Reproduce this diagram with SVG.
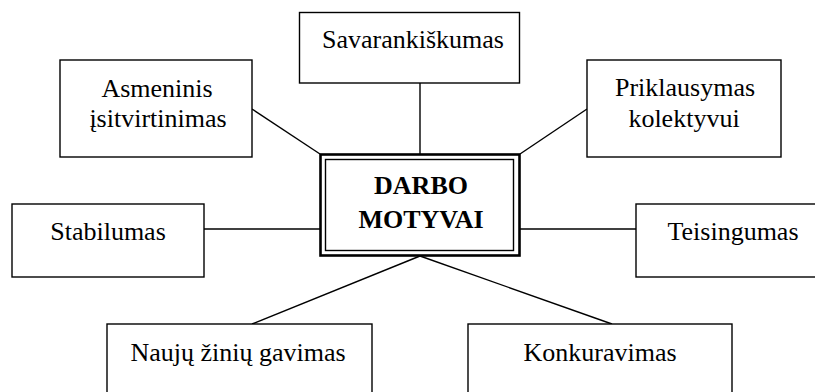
<svg xmlns="http://www.w3.org/2000/svg" width="815" height="392" viewBox="0 0 815 392">
<style>
  .box { fill: #fff; stroke: #000; stroke-width: 1.4; }
  text { font-family: 'Liberation Serif', 'Times New Roman', serif; font-size: 26px; fill: #000; text-anchor: middle; }
  .bold { font-weight: bold; }
  .conn line { stroke: #000; stroke-width: 1.4; }
</style>
<rect width="815" height="392" fill="#fff"/>
<g id="connectors" class="conn">
  <line x1="420" y1="83" x2="420" y2="154"/>
  <line x1="252" y1="109" x2="320" y2="154"/>
  <line x1="587" y1="109" x2="520" y2="154"/>
  <line x1="204" y1="229" x2="320" y2="229"/>
  <line x1="520" y1="229" x2="636" y2="229"/>
  <line x1="252" y1="324" x2="420" y2="256"/>
  <line x1="612" y1="324" x2="420" y2="256"/>
</g>
<g id="center">
  <rect x="320.5" y="154.5" width="199" height="101" fill="#fff" stroke="#000" stroke-width="2.6"/>
  <rect x="325.5" y="159.5" width="188" height="91" fill="none" stroke="#000" stroke-width="1.4"/>
  <text class="bold" x="421" y="194">DARBO</text>
  <text class="bold" x="421" y="228">MOTYVAI</text>
</g>
<g id="savarankiskumas">
  <rect class="box" x="299.5" y="12.5" width="220" height="70.5"/>
  <text x="413" y="48">Savarankiškumas</text>
</g>
<g id="asmeninis">
  <rect class="box" x="60" y="60" width="192" height="97"/>
  <text x="157" y="97">Asmeninis</text>
  <text x="158" y="127">įsitvirtinimas</text>
</g>
<g id="priklausymas">
  <rect class="box" x="587" y="60" width="194" height="97"/>
  <text x="685" y="96">Priklausymas</text>
  <text x="684" y="127">kolektyvui</text>
</g>
<g id="stabilumas">
  <rect class="box" x="12" y="204" width="192" height="73"/>
  <text x="108" y="240">Stabilumas</text>
</g>
<g id="teisingumas">
  <rect class="box" x="636" y="204" width="185" height="73"/>
  <text x="733" y="240">Teisingumas</text>
</g>
<g id="nauju">
  <rect class="box" x="107" y="324" width="265" height="80"/>
  <text x="238" y="361">Naujų žinių gavimas</text>
</g>
<g id="konkuravimas">
  <rect class="box" x="468" y="324" width="264" height="80"/>
  <text x="600" y="361">Konkuravimas</text>
</g>
</svg>
